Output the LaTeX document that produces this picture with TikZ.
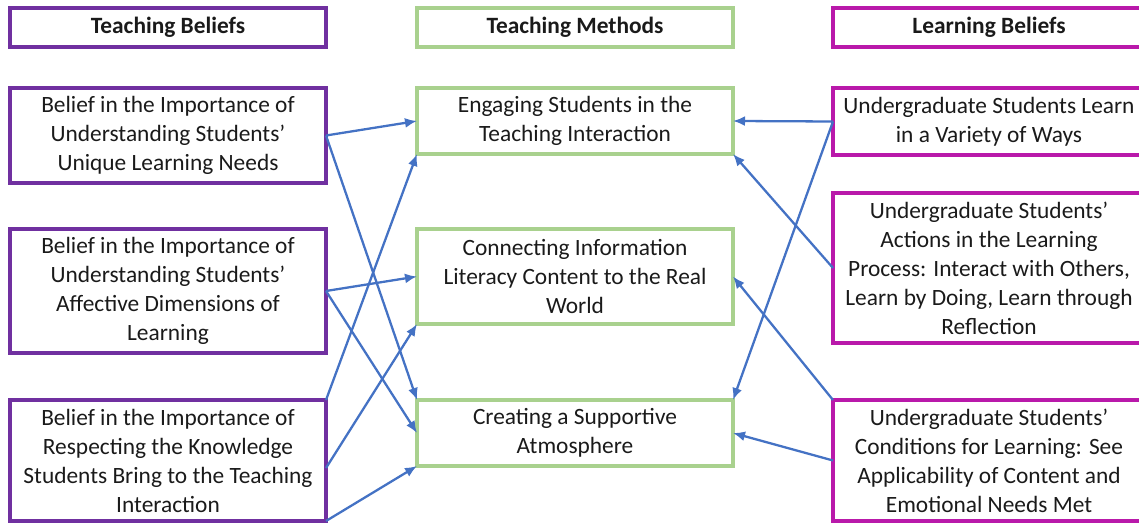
\documentclass[tikz,border=0pt]{standalone}
\usepackage{fontspec}
\setmainfont{Carlito}
\usetikzlibrary{arrows.meta, positioning}

\definecolor{beliefpurple}{HTML}{7030A0}
\definecolor{methodgreen}{HTML}{A9D18E}
\definecolor{learnmagenta}{RGB}{185,25,170}
\definecolor{linkblue}{HTML}{4472C4}
\definecolor{boxtext}{HTML}{1A1A1A}

\begin{document}
\begin{tikzpicture}[
    box/.style={rectangle, draw, line width=2pt, anchor=north west, inner sep=0pt, outer sep=0pt,
        align=center, text=boxtext, font=\fontsize{13.3}{16.5}\selectfont},
    teach/.style={box, draw=beliefpurple, minimum width=6.32cm},
    method/.style={box, draw=methodgreen, minimum width=6.32cm},
    learn/.style={box, draw=learnmagenta, minimum width=6.24cm},
    head/.style={minimum height=0.78cm, font=\fontsize{13.3}{16.5}\selectfont\bfseries},
    link/.style={-{Latex[length=2.4mm, width=2mm]}, draw=linkblue, line width=1.3pt}
]
    \useasboundingbox (0,0) rectangle (22.78,-10.46);

    % column headers
    \node[teach, head] (tb) at (0.2,-0.16) {Teaching Beliefs};
    \node[method, head] (tm) at (8.34,-0.16) {Teaching Methods};
    \node[learn, head] (lb) at (16.66,-0.16) {Learning Beliefs};

    % teaching beliefs
    \node[teach, minimum height=1.9cm] (belief1) at (0.2,-1.76)
        {Belief in the Importance of\\Understanding Students’\\Unique Learning Needs};
    \node[teach, minimum height=2.48cm] (belief2) at (0.2,-4.58)
        {Belief in the Importance of\\Understanding Students’\\Affective Dimensions of\\Learning};
    \node[teach, minimum height=2.42cm] (belief3) at (0.2,-8.0)
        {Belief in the Importance of\\Respecting the Knowledge\\Students Bring to the Teaching\\Interaction};

    % teaching methods
    \node[method, minimum height=1.32cm] (engage) at (8.34,-1.76)
        {Engaging Students in the\\Teaching Interaction};
    \node[method, minimum height=1.9cm] (connect) at (8.34,-4.58)
        {Connecting Information\\Literacy Content to the Real\\World};
    \node[method, minimum height=1.32cm] (support) at (8.34,-8.0)
        {Creating a Supportive\\Atmosphere};

    % learning beliefs
    \node[learn, minimum height=1.34cm] (variety) at (16.66,-1.76)
        {Undergraduate Students Learn\\in a Variety of Ways};
    \node[learn, minimum height=3.0cm] (actions) at (16.66,-3.86)
        {Undergraduate Students’\\Actions in the Learning\\Process: Interact with Others,\\Learn by Doing, Learn through\\Reflection};
    \node[learn, minimum height=2.42cm] (conditions) at (16.66,-8.0)
        {Undergraduate Students’\\Conditions for Learning: See\\Applicability of Content and\\Emotional Needs Met};

    % links
    \draw[link] (belief1.east) -- (engage.west);
    \draw[link] (belief1.east) -- (support.north west);
    \draw[link] (belief2.east) -- (connect.west);
    \draw[link] (belief2.east) -- (support.west);
    \draw[link] (belief3.north east) -- (engage.south west);
    \draw[link] ([yshift=-0.15cm]belief3.east) -- (connect.south west);
    \draw[link] (belief3.south east) -- (support.south west);

    \draw[link] (variety.west) -- (engage.east);
    \draw[link] (variety.west) -- (support.north east);
    \draw[link] (actions.west) -- (engage.south east);
    \draw[link] (conditions.north west) -- (connect.east);
    \draw[link] (conditions.west) -- (support.east);
\end{tikzpicture}
\end{document}
